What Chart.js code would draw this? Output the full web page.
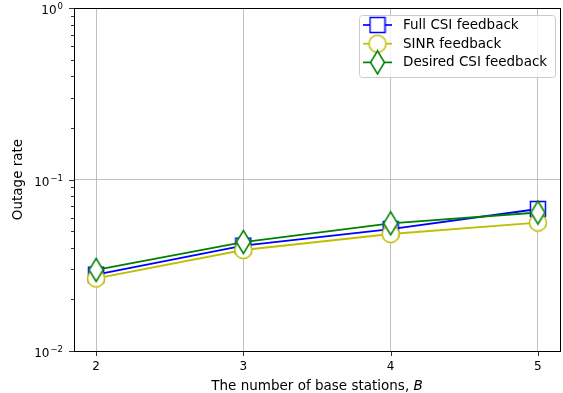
<!DOCTYPE html>
<html>
<head>
<meta charset="utf-8">
<script src="https://cdn.jsdelivr.net/npm/chart.js@4/dist/chart.umd.min.js"></script>
<style>
  html, body { margin: 0; padding: 0; background: #fff; overflow: hidden; }
  canvas { display: block; }
</style>
</head>
<body>
<canvas id="outageChart" width="563" height="393"></canvas>
<script>
// ===== data =====
const stations = [2, 3, 4, 5];
const fullCsi = [0.0279, 0.0412, 0.0514, 0.0673];
const sinr = [0.0265, 0.0388, 0.0481, 0.0561];
const desiredCsi = [0.0297, 0.0432, 0.0555, 0.0642];

const xTicks = [2, 3, 4, 5];
const yTicks = [0.01, 0.02, 0.03, 0.04, 0.05, 0.06, 0.07, 0.08, 0.09,
                0.1, 0.2, 0.3, 0.4, 0.5, 0.6, 0.7, 0.8, 0.9, 1];
// exponent text for the 10^n labels
const yExponents = { "-2": "\u22122", "-1": "\u22121", "0": "0" };

const FONT = "DejaVu Sans";
const LABEL_FONT = "13.5px '" + FONT + "'";
const TICK_FONT = "12px '" + FONT + "'";
const SUP_FONT = "8.5px '" + FONT + "'";
const GRID = "#b0b0b0";

function isMajor(v) {
    const e = Math.log10(v);
    return Math.abs(e - Math.round(e)) < 1e-9;
}

// open markers like matplotlib (white face, coloured edge)
function makeMarker(kind, color) {
    const lw = 1.5;
    const c = document.createElement("canvas");
    let w, h;
    if (kind === "square") { w = 15; h = 15; }
    else if (kind === "circle") { w = 17; h = 17; }
    else { w = 14; h = 23; }
    c.width = w + 3; c.height = h + 3;
    const ctx = c.getContext("2d");
    const cx = c.width / 2, cy = c.height / 2;
    ctx.beginPath();
    if (kind === "square") {
        ctx.rect(cx - w / 2, cy - h / 2, w, h);
    } else if (kind === "circle") {
        ctx.arc(cx, cy, w / 2, 0, Math.PI * 2);
    } else {
        ctx.moveTo(cx, cy - h / 2);
        ctx.lineTo(cx + w / 2, cy);
        ctx.lineTo(cx, cy + h / 2);
        ctx.lineTo(cx - w / 2, cy);
        ctx.closePath();
    }
    ctx.fillStyle = "#ffffff";
    ctx.fill();
    ctx.lineWidth = lw;
    ctx.strokeStyle = color;
    ctx.stroke();
    return c;
}

const series = [
    { label: "Full CSI feedback", data: fullCsi, color: "#0000ff", marker: makeMarker("square", "#0000ff"), order: 3 },
    { label: "SINR feedback", data: sinr, color: "#bfbf00", marker: makeMarker("circle", "#bfbf00"), order: 2 },
    { label: "Desired CSI feedback", data: desiredCsi, color: "#008000", marker: makeMarker("diamond", "#008000"), order: 1 }
];

// frame, tick marks, 10^n labels, axis titles and legend drawn matplotlib-style
const mplDecor = {
    id: "mplDecor",
    afterDraw(chart) {
        const ctx = chart.ctx;
        const a = chart.chartArea;
        const xs = chart.scales.x, ys = chart.scales.y;
        ctx.save();

        // tick marks
        ctx.strokeStyle = "#000";
        ctx.lineWidth = 0.8;
        ctx.beginPath();
        yTicks.forEach(v => {
            const y = Math.round(ys.getPixelForValue(v)) + 0.5;
            const len = isMajor(v) ? 5 : 3;
            ctx.moveTo(a.left - len, y);
            ctx.lineTo(a.left, y);
        });
        xTicks.forEach(v => {
            const x = Math.round(xs.getPixelForValue(v)) + 0.5;
            ctx.moveTo(x, a.bottom);
            ctx.lineTo(x, a.bottom + 5);
        });
        ctx.stroke();

        // y tick labels 10^n with a real superscript
        ctx.fillStyle = "#000";
        ctx.textAlign = "left";
        ctx.textBaseline = "alphabetic";
        yTicks.filter(isMajor).forEach(v => {
            const y = ys.getPixelForValue(v);
            const exp = yExponents[String(Math.round(Math.log10(v)))];
            ctx.font = TICK_FONT;
            const wb = ctx.measureText("10").width;
            ctx.font = SUP_FONT;
            const we = ctx.measureText(exp).width;
            const right = a.left - 11;
            const x0 = right - wb - 1 - we;
            ctx.font = TICK_FONT;
            ctx.fillText("10", x0, y + 6);
            ctx.font = SUP_FONT;
            ctx.fillText(exp, x0 + wb + 1, y + 1);
        });

        // frame
        ctx.lineWidth = 1;
        ctx.strokeRect(Math.round(a.left) + 0.5, Math.round(a.top) + 0.5,
                       Math.round(a.right - a.left), Math.round(a.bottom - a.top));

        // x title with italic B
        ctx.fillStyle = "#000";
        ctx.textBaseline = "alphabetic";
        ctx.textAlign = "left";
        const t1 = "The number of base stations, ";
        const t2 = "B";
        ctx.font = LABEL_FONT;
        const w1 = ctx.measureText(t1).width;
        ctx.font = "italic " + LABEL_FONT;
        const w2 = ctx.measureText(t2).width;
        const x0 = (a.left + a.right) / 2 - (w1 + w2) / 2;
        ctx.font = LABEL_FONT;
        ctx.fillText(t1, x0, 390);
        ctx.font = "italic " + LABEL_FONT;
        ctx.fillText(t2, x0 + w1, 390);

        // y title
        ctx.font = LABEL_FONT;
        ctx.translate(18, (a.top + a.bottom) / 2);
        ctx.rotate(-Math.PI / 2);
        ctx.textAlign = "center";
        ctx.textBaseline = "middle";
        ctx.fillText("Outage rate", 0, 0);
        ctx.setTransform(1, 0, 0, 1, 0, 0);

        // legend
        const lw = 196, lh = 62;
        const lx = a.right - 5 - lw, ly = a.top + 7;
        ctx.beginPath();
        if (ctx.roundRect) ctx.roundRect(lx + 0.5, ly + 0.5, lw, lh, 3);
        else ctx.rect(lx + 0.5, ly + 0.5, lw, lh);
        ctx.fillStyle = "rgba(255,255,255,0.8)";
        ctx.fill();
        ctx.strokeStyle = "#cccccc";
        ctx.lineWidth = 1;
        ctx.stroke();

        series.forEach((s, i) => {
            const y = ly + 10 + i * 18.7;
            ctx.beginPath();
            ctx.strokeStyle = s.color;
            ctx.lineWidth = 1.7;
            ctx.moveTo(lx + 4, y);
            ctx.lineTo(lx + 33, y);
            ctx.stroke();
            ctx.drawImage(s.marker, lx + 18.5 - s.marker.width / 2, y - s.marker.height / 2);
            ctx.fillStyle = "#000";
            ctx.font = LABEL_FONT;
            ctx.textAlign = "left";
            ctx.textBaseline = "middle";
            ctx.fillText(s.label, lx + 44, y + 0.5);
        });

        ctx.restore();
    }
};

Chart.defaults.font.family = FONT;
Chart.defaults.font.size = 12;
Chart.defaults.color = "#000";

new Chart(document.getElementById("outageChart"), {
    type: "line",
    data: {
        datasets: series.map(s => ({
            label: s.label,
            data: stations.map((x, i) => ({ x: x, y: s.data[i] })),
            borderColor: s.color,
            backgroundColor: "#ffffff",
            borderWidth: 1.8,
            tension: 0,
            pointStyle: s.marker,
            pointRadius: 9,
            order: s.order,
            clip: false
        }))
    },
    options: {
        responsive: false,
        animation: false,
        events: [],
        layout: { autoPadding: false, padding: { left: 0, right: 3, top: 8, bottom: 0 } },
        plugins: {
            legend: { display: false },
            tooltip: { enabled: false }
        },
        scales: {
            x: {
                type: "linear",
                min: 1.85,
                max: 5.15,
                afterBuildTicks: scale => { scale.ticks = xTicks.map(v => ({ value: v })); },
                afterFit: scale => {
                    scale.height = 42;
                    scale.paddingLeft = 0;
                    scale.paddingRight = 0;
                },
                ticks: {
                    autoSkip: false,
                    maxRotation: 0,
                    padding: 9,
                    callback: v => String(v)
                },
                grid: { color: GRID, lineWidth: 0.8, drawTicks: false },
                border: { display: false }
            },
            y: {
                type: "logarithmic",
                min: 0.01,
                max: 1,
                afterBuildTicks: scale => {
                    scale.ticks = yTicks.map(v => ({ value: v, major: isMajor(v) }));
                },
                afterFit: scale => {
                    scale.width = 74;
                    scale.paddingTop = 0;
                    scale.paddingBottom = 0;
                },
                ticks: { display: false, autoSkip: false },
                grid: {
                    color: ctx => (ctx.tick && isMajor(ctx.tick.value)) ? GRID : "rgba(0,0,0,0)",
                    lineWidth: 0.8,
                    drawTicks: false
                },
                border: { display: false }
            }
        }
    },
    plugins: [mplDecor]
});
</script>
</body>
</html>
